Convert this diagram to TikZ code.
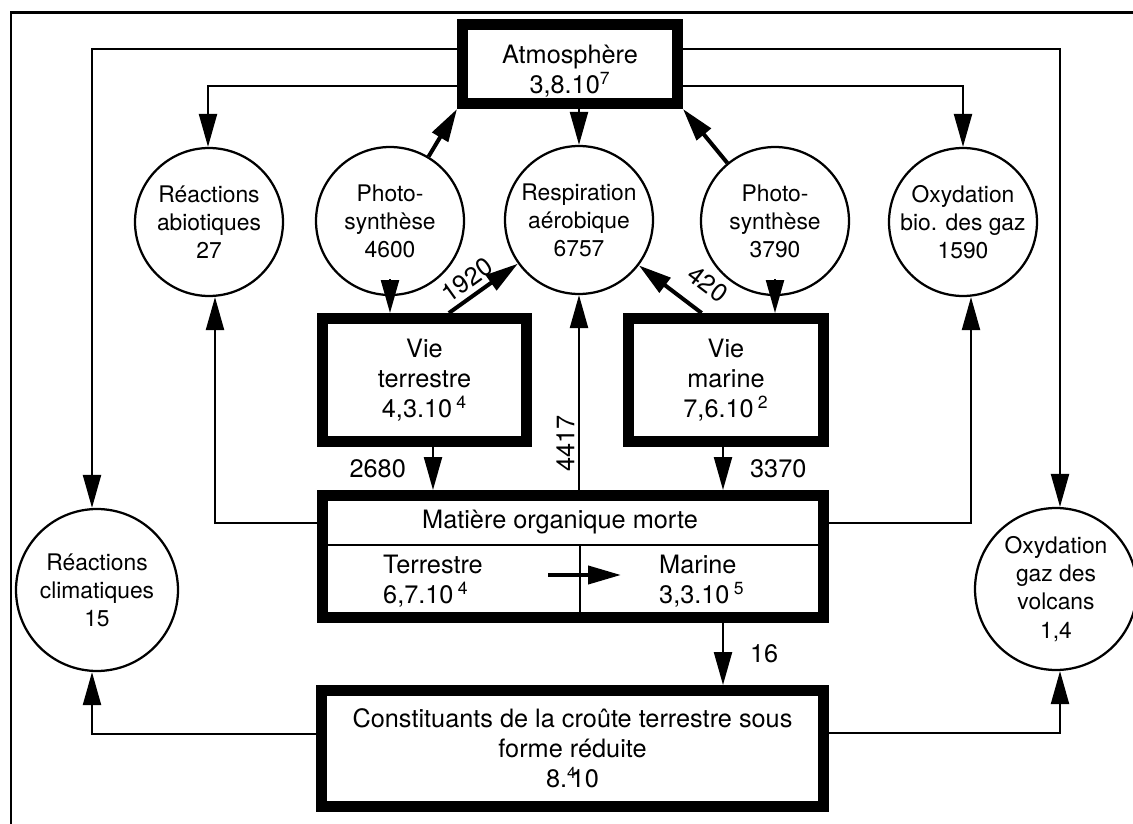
\documentclass[tikz,border=0pt]{standalone}
\usepackage{fontspec}
\setmainfont{TeX Gyre Heros}
\usetikzlibrary{arrows.meta}
\newcommand{\bfnt}{\fontsize{14.4}{17}\selectfont}
\newcommand{\cfnt}{\fontsize{13}{16}\selectfont}
\newcommand{\sexp}[1]{\textsuperscript{#1}}
\tikzset{
  stock/.style={draw, line width=0.22cm, align=center, font=\bfnt},
  proc/.style={draw, circle, line width=0.045cm, inner sep=-4pt,
    align=center, font=\cfnt, minimum size=2.96cm},
  flow/.style={line width=0.045cm, -{Triangle[length=0.66cm,width=0.36cm]}},
  bigflow/.style={line width=0.08cm, -{Triangle[length=0.66cm,width=0.36cm]}},
  wire/.style={line width=0.045cm},
  lbl/.style={font=\bfnt, inner sep=2pt},
}

\begin{document}
\begin{tikzpicture}[x=0.02cm, y=-0.02cm]
  \useasboundingbox (0,0) rectangle (1133,824);
  \draw[line width=0.06cm] (11,824) -- (11,13) -- (1133,13);

  % reservoirs
  \node[stock, minimum width=4.3cm, minimum height=1.58cm] (atm) at (570,64) {};
  \node[font=\bfnt, align=center] (atmtxt) at (570,71) {Atmosphère\\3,8.10\sexp{7}};
  \node[stock, minimum width=4.08cm, minimum height=2.46cm] (vieterre) at (424.5,380)
    {Vie\\terrestre\\4,3.10\,\sexp{4}};
  \node[stock, minimum width=3.9cm, minimum height=2.46cm] (viemar) at (726,380)
    {Vie\\marine\\7,6.10\,\sexp{2}};
  \node[stock, minimum width=10.02cm, minimum height=2.44cm] (mom) at (573,556.5) {};
  \node[stock, minimum width=10.04cm, minimum height=2.32cm] (croute) at (572.5,748.5)
    {Constituants de la croûte terrestre sous\\forme réduite\hspace*{2.6em}\\8.\rlap{\raisebox{5pt}{\small 4}}\kern2pt10};

  % matiere organique morte
  \coordinate (sepA) at (317,545);
  \coordinate (divT) at (580,545);
  \draw[wire] (sepA) -- (sepA -| mom.east);
  \draw[wire] (divT) -- (divT |- mom.south);
  \node[font=\bfnt] (momtitre) at (560,522) {Matière organique morte};
  \node[font=\bfnt, align=left, anchor=west] (terr) at (377,581) {Terrestre\\6,7.10\,\sexp{4}};
  \node[font=\bfnt, align=left, anchor=west] (marine) at (653,581) {Marine\\3,3.10\,\sexp{5}};
  \coordinate (tm1) at (548,575);
  \coordinate (tm2) at (621,575);
  \draw[bigflow] (tm1) -- (tm2);

  % processus
  \node[proc] (abio) at (209,222) {Réactions\\abiotiques\\27};
  \node[proc] (photo1) at (390,221) {Photo-\\synthèse\\4600};
  \node[proc] (resp) at (579,220) {Respiration\\aérobique\\6757};
  \node[proc] (photo2) at (775,221) {Photo-\\synthèse\\3790};
  \node[proc] (oxbio) at (963,222) {Oxydation\\bio. des gaz\\1590};
  \node[proc, minimum size=3.24cm] (climat) at (97,590) {Réactions\\climatiques\\15};
  \node[proc, minimum size=3.24cm] (volcan) at (1056,589) {Oxydation\\gaz des\\volcans\\1,4};

  % flux
  \coordinate (hautG) at (92,49);
  \coordinate (hautD) at (1060,49);
  \coordinate (atmG) at (208,86);
  \coordinate (atmD) at (963,86);
  \coordinate (momG) at (215,523);
  \coordinate (momD) at (971,523);
  \coordinate (basG) at (92,734);
  \coordinate (basD) at (1060,733);
  \coordinate (colT) at (433,0);
  \coordinate (colM) at (723,0);

  \draw[flow] (atm.west |- hautG) -- (hautG) -- (hautG |- climat.north);
  \draw[flow] (atm.east |- hautD) -- (hautD) -- (hautD |- volcan.north);
  \draw[flow] (atm.west |- atmG) -- (atmG) -- (atmG |- abio.north);
  \draw[flow] (atm.east |- atmD) -- (atmD) -- (atmD |- oxbio.north);
  \draw[flow] (atm.south -| resp) -- (resp.north);
  \draw[bigflow] (photo1) -- (atm.south west);
  \draw[bigflow] (photo2) -- (atm.south east);
  \draw[flow] ([yshift=0.34cm]photo1.south) -- (photo1.south |- vieterre.north);
  \draw[flow] ([yshift=0.34cm]photo2.south) -- (photo2.south |- viemar.north);
  \draw[bigflow] (vieterre.70) -- (resp) node[lbl, sloped, above=1pt, pos=0.4] (f1920) {1920};
  \draw[bigflow] (viemar.110) -- (resp) node[lbl, sloped, above=7pt, pos=0.16] (f420) {420};
  \draw[flow] (vieterre.south -| colT) -- (mom.north -| colT) node[lbl, left=0.45cm, midway] (f2680) {2680};
  \draw[flow] (viemar.south -| colM) -- (mom.north -| colM) node[lbl, right=0.45cm, midway] (f3370) {3370};
  \draw[flow] (mom.north -| resp) -- (resp.south) node[lbl, sloped, above, pos=0.24] (f4417) {4417};
  \draw[flow] (mom.west |- momG) -- (momG) -- (momG |- abio.south);
  \draw[flow] (mom.east |- momD) -- (momD) -- (momD |- oxbio.south);
  \draw[flow] (mom.south -| colM) -- (croute.north -| colM) node[lbl, right=0.45cm, midway] (f16) {16};
  \draw[flow] (croute.west |- basG) -- (basG) -- (basG |- climat.south);
  \draw[flow] (croute.east |- basD) -- (basD) -- (basD |- volcan.south);
\end{tikzpicture}
\end{document}
